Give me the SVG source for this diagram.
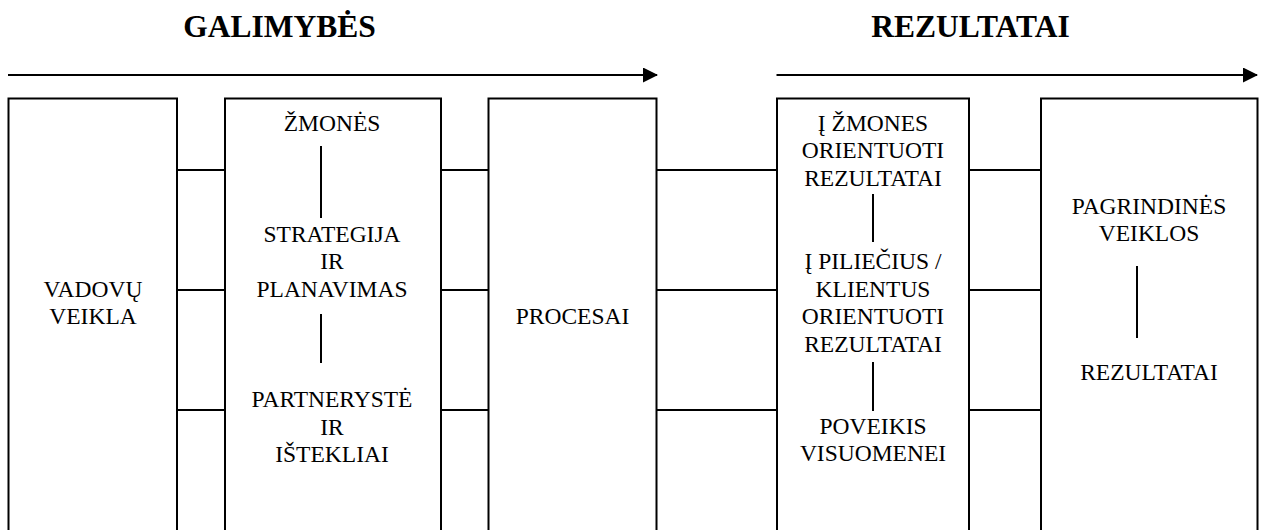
<svg xmlns="http://www.w3.org/2000/svg" width="1262" height="530" viewBox="0 0 1262 530">
<style>
.box{fill:#fff;stroke:#000;stroke-width:2}
.ln{stroke:#000;stroke-width:2;fill:none}
text{font-family:'Liberation Serif','Times New Roman','DejaVu Serif',serif;fill:#000;text-anchor:middle}
.t{font-size:23.5px}
.h{font-size:31.5px;font-weight:bold}
</style>
<defs>
<marker id="ah" markerWidth="15" markerHeight="15" refX="14" refY="7.5" orient="auto" markerUnits="userSpaceOnUse">
<path d="M0,0 L15,7.5 L0,15 Z" fill="#000"/>
</marker>
</defs>
<text class="h" x="279.5" y="37">GALIMYBĖS</text>
<text class="h" x="970.5" y="37">REZULTATAI</text>
<g id="connectors">
<line class="ln" x1="8" y1="75" x2="657" y2="75" marker-end="url(#ah)"/>
<line class="ln" x1="776.5" y1="75" x2="1257" y2="75" marker-end="url(#ah)"/>
<line class="ln" x1="177" y1="170" x2="225" y2="170"/>
<line class="ln" x1="177" y1="290" x2="225" y2="290"/>
<line class="ln" x1="177" y1="410" x2="225" y2="410"/>
<line class="ln" x1="441" y1="170" x2="488.5" y2="170"/>
<line class="ln" x1="441" y1="290" x2="488.5" y2="290"/>
<line class="ln" x1="441" y1="410" x2="488.5" y2="410"/>
<line class="ln" x1="656.5" y1="170" x2="777" y2="170"/>
<line class="ln" x1="656.5" y1="290" x2="777" y2="290"/>
<line class="ln" x1="656.5" y1="410" x2="777" y2="410"/>
<line class="ln" x1="969" y1="170" x2="1041" y2="170"/>
<line class="ln" x1="969" y1="290" x2="1041" y2="290"/>
<line class="ln" x1="969" y1="410" x2="1041" y2="410"/>
</g>
<g id="vadovu">
<rect class="box" x="8.5" y="98.5" width="168.5" height="440"/>
<text class="t" x="93" y="296.5">VADOVŲ</text>
<text class="t" x="93" y="323.5">VEIKLA</text>
</g>
<g id="zmones">
<rect class="box" x="225" y="98.5" width="216" height="440"/>
<text class="t" x="332" y="130.5">ŽMONĖS</text>
<line class="ln" x1="321" y1="146" x2="321" y2="218"/>
<text class="t" x="332" y="242">STRATEGIJA</text>
<text class="t" x="332" y="269">IR</text>
<text class="t" x="332" y="296.5">PLANAVIMAS</text>
<line class="ln" x1="321" y1="314" x2="321" y2="363"/>
<text class="t" x="332" y="406.5">PARTNERYSTĖ</text>
<text class="t" x="332" y="435">IR</text>
<text class="t" x="332" y="461.5">IŠTEKLIAI</text>
</g>
<g id="procesai">
<rect class="box" x="488.5" y="98.5" width="168" height="440"/>
<text class="t" x="572.5" y="323.5">PROCESAI</text>
</g>
<g id="rezultatai">
<rect class="box" x="777" y="98.5" width="192" height="440"/>
<text class="t" x="873" y="130.5">Į ŽMONES</text>
<text class="t" x="873" y="158">ORIENTUOTI</text>
<text class="t" x="873" y="185.5">REZULTATAI</text>
<line class="ln" x1="873" y1="194" x2="873" y2="242"/>
<text class="t" x="873" y="269">Į PILIEČIUS /</text>
<text class="t" x="873" y="296.5">KLIENTUS</text>
<text class="t" x="873" y="324">ORIENTUOTI</text>
<text class="t" x="873" y="351.5">REZULTATAI</text>
<line class="ln" x1="873" y1="362" x2="873" y2="411"/>
<text class="t" x="873" y="434">POVEIKIS</text>
<text class="t" x="873" y="461">VISUOMENEI</text>
</g>
<g id="pagrindines">
<rect class="box" x="1041" y="98.5" width="216.5" height="440"/>
<text class="t" x="1149" y="214">PAGRINDINĖS</text>
<text class="t" x="1149" y="241">VEIKLOS</text>
<line class="ln" x1="1137" y1="266" x2="1137" y2="338"/>
<text class="t" x="1149" y="380">REZULTATAI</text>
</g>
</svg>
